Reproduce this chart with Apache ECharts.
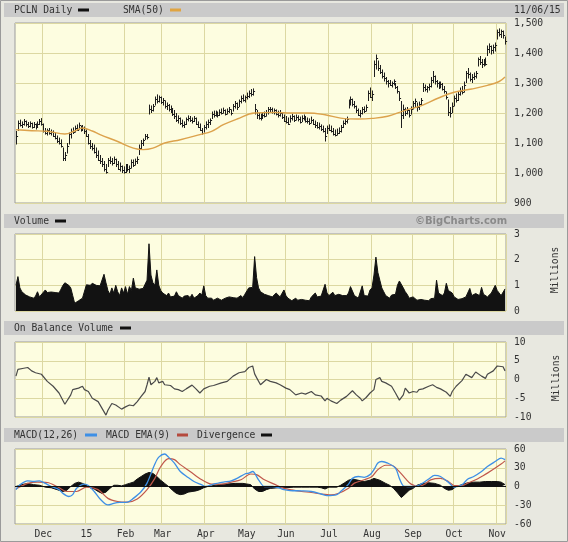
<!DOCTYPE html>
<html><head><meta charset="utf-8">
<script src="https://cdn.jsdelivr.net/npm/echarts@6/dist/echarts.min.js"></script>
<style>html,body{margin:0;padding:0;background:#e8e8e0}#c{width:568px;height:542px}</style>
</head><body><div id="c"></div>
<script>
// ---- calendar (trading days) ----
const startDate = '2014-11-10', endDate = '2015-11-06';
const holidays = ['2014-11-27','2014-12-25','2015-01-01','2015-01-19','2015-02-16','2015-04-03','2015-05-25','2015-07-03','2015-09-07'];
const monthNames = ['15','Feb','Mar','Apr','May','Jun','Jul','Aug','Sep','Oct','Nov','Dec'];

// ---- price (daily) ----
const high = [1140,1175,1178,1172,1180,1175,1170,1172,1168,1170,1165,1172,1180,1183,
1165,1150,1148,1150,1145,1142,1135,1125,1118,1112,
1085,1070,1100,1135,1148,1152,1158,1162,1168,1158,1160,1155,
1145,1130,1110,1100,1095,1085,1075,1060,1050,1040,1030,
1050,1055,1050,1055,1048,1040,1035,1025,1022,1030,1030,1025,
1045,1045,1048,1055,1095,1110,1115,1130,1130,
1228,1225,1230,1255,1262,1258,1255,
1250,1242,1235,1230,1225,1215,1210,1200,1192,1185,1178,1172,
1185,1192,1190,1185,1190,1185,1172,1165,1150,1160,
1172,1178,1182,1205,1208,1208,1205,1212,1215,1218,1212,1215,1220,1212,
1230,1240,1235,1245,1258,1262,1258,1268,1275,1280,1282,
1230,1210,1200,1198,1202,1205,1210,1220,1220,1218,1215,1212,1208,1210,1202,1195,
1190,1185,1192,1198,1192,1195,1192,1188,1192,1195,1190,1185,1182,1188,1180,1175,1170,1168,1162,1158,
1150,1158,1162,1158,1150,1145,1148,1152,1160,1175,1182,1188,
1245,1255,1248,1240,1225,1215,1210,1220,1222,1228,1275,1285,1275,
1375,1395,1375,1360,1345,1335,1320,1310,1310,1305,1312,1300,1290,1272,
1240,1228,1218,1220,1210,1222,1240,1248,1235,1238,1250,
1300,1295,1290,1298,1320,1340,1325,1310,1305,1305,1300,1290,1272,
1245,1220,1235,1258,1265,1270,1285,1290,1305,1340,1350,1335,1330,1335,1340,
1385,1390,1380,1380,1385,1425,1432,1425,1428,1435,1478,1482,1478,1475,1455];
const low = [1095,1140,1155,1150,1158,1155,1150,1152,1148,1150,1145,1150,1160,1158,
1135,1128,1125,1128,1125,1120,1112,1100,1095,1085,
1040,1040,1065,1095,1115,1130,1135,1140,1145,1138,1140,1130,
1120,1095,1080,1075,1065,1050,1040,1030,1020,1005,998,
1020,1030,1025,1030,1020,1010,1005,1000,998,1000,1005,1000,
1015,1020,1025,1030,1060,1080,1090,1110,1112,
1195,1200,1205,1225,1232,1235,1230,
1225,1215,1210,1205,1200,1190,1180,1170,1165,1160,1152,1150,
1160,1172,1170,1165,1170,1160,1150,1140,1128,1135,
1145,1150,1160,1180,1185,1188,1185,1190,1195,1198,1192,1195,1200,1192,
1205,1215,1210,1220,1232,1238,1235,1245,1250,1255,1258,
1195,1180,1178,1175,1180,1185,1188,1195,1200,1198,1195,1192,1185,1188,1180,1170,
1165,1160,1168,1175,1170,1175,1172,1165,1170,1175,1168,1165,1160,1165,1160,1150,1148,1145,1140,1135,
1105,1130,1140,1135,1125,1122,1125,1130,1135,1150,1160,1165,
1215,1225,1222,1215,1200,1190,1185,1195,1200,1205,1240,1250,1240,
1320,1345,1340,1330,1315,1305,1295,1285,1290,1285,1292,1280,1265,1240,
1150,1180,1190,1195,1185,1195,1212,1218,1205,1210,1225,
1270,1272,1268,1275,1285,1300,1295,1285,1280,1282,1275,1265,1245,
1190,1185,1200,1222,1235,1240,1258,1262,1268,1300,1315,1305,1300,1310,1315,
1355,1360,1350,1355,1358,1390,1400,1395,1398,1405,1445,1455,1450,1448,1428];
const close = [1125,1168,1160,1165,1172,1162,1158,1168,1155,1162,1152,1165,1175,1165,
1140,1135,1142,1132,1138,1125,1118,1108,1100,1090,
1050,1060,1090,1130,1140,1138,1150,1145,1160,1148,1150,1140,
1125,1100,1090,1085,1070,1060,1045,1040,1030,1015,1005,
1045,1040,1032,1048,1030,1015,1025,1010,1005,1020,1012,1018,
1038,1028,1040,1048,1085,1100,1110,1125,1120,
1215,1210,1225,1248,1240,1252,1238,
1245,1222,1228,1212,1218,1198,1190,1178,1185,1168,1160,1165,
1180,1185,1178,1172,1182,1165,1155,1145,1135,1155,
1165,1170,1178,1198,1195,1202,1192,1205,1200,1210,1198,1208,1212,1200,
1225,1232,1220,1240,1250,1245,1255,1258,1268,1262,1275,
1215,1192,1185,1190,1195,1190,1205,1212,1215,1205,1210,1198,1195,1200,1188,1175,
1170,1165,1185,1190,1178,1188,1180,1170,1185,1180,1175,1172,1168,1178,1165,1160,1152,1158,1148,1140,
1125,1150,1145,1140,1130,1128,1135,1140,1155,1168,1172,1180,
1238,1248,1230,1222,1210,1195,1200,1212,1208,1220,1268,1255,1262,
1365,1385,1350,1338,1325,1318,1305,1300,1295,1300,1305,1285,1275,1250,
1195,1215,1200,1210,1195,1215,1232,1240,1220,1230,1242,
1285,1280,1285,1290,1310,1325,1305,1300,1290,1298,1280,1272,1255,
1205,1200,1225,1250,1245,1262,1275,1270,1295,1335,1330,1315,1320,1325,1335,
1380,1370,1362,1372,1365,1415,1425,1410,1420,1428,1470,1465,1472,1460,1440];

// SMA(50) read at points [dayIndex, value]
const sma50 = [[0,1144],[8,1141],[16,1139],[25,1130],[30,1140],[34,1150],[39,1140],[43,1128],[52,1105],[60,1083],[65,1078],[70,1083],[76,1100],[84,1111],[94,1128],[100,1139],[106,1161],[113,1180],[122,1200],[132,1202],[141,1200],[149,1200],[158,1194],[166,1183],[175,1180],[182,1182],[190,1189],[199,1209],[207,1224],[216,1250],[224,1269],[233,1280],[241,1292],[247,1305],[250,1320]];

// ---- volume (millions, daily) ----
const volume = [1.0,1.34,0.9,0.75,0.7,0.62,0.58,0.55,0.6,0.5,0.58,0.75,0.55,0.62,
0.73,0.82,0.72,0.7,0.74,0.68,0.72,0.75,0.7,
0.85,1.0,1.1,1.17,1.0,
0.9,0.6,0.3,0.35,0.4,0.45,0.5,0.48,
1.02,1.05,1.0,1.08,1.04,1.0,1.05,0.98,1.0,
1.43,1.1,
0.8,0.65,0.9,0.7,1.0,0.75,0.6,0.9,
0.7,0.95,0.65,0.95,0.8,1.28,
0.9,0.95,0.85,0.9,0.88,0.95,
1.2,2.62,1.4,1.1,1.0,1.6,1.0,0.8,
0.7,0.65,0.6,0.7,0.55,0.62,0.58,0.75,0.6,0.55,0.5,0.58,
0.55,0.6,0.52,0.65,0.5,0.55,0.6,0.7,0.62,0.98,0.6,0.5,0.45,0.5,
0.42,0.45,0.5,0.45,0.42,0.48,0.5,0.45,0.55,0.48,0.52,0.45,0.5,0.55,0.6,0.52,0.65,0.7,
0.9,0.95,0.92,2.12,1.3,0.9,
0.75,0.7,0.65,0.72,0.6,0.65,0.55,0.62,0.7,0.65,0.55,0.6,0.82,0.6,0.5,0.45,
0.4,0.45,0.5,0.42,0.38,0.45,0.5,0.42,0.48,0.4,0.55,0.5,0.7,0.55,
0.6,0.58,0.65,1.04,0.7,
0.6,0.55,0.73,0.6,0.55,0.65,0.7,0.6,0.55,0.6,0.7,
0.95,0.9,0.6,0.55,0.5,0.55,
0.98,0.6,0.55,0.58,0.82,0.9,
1.4,2.1,1.5,1.2,0.9,0.75,
0.6,0.55,0.5,0.62,0.55,0.65,
1.0,1.17,1.1,0.9,0.75,0.65,
0.5,0.45,0.55,0.5,0.42,0.48,0.45,0.5,0.42,0.45,0.4,0.48,0.45,0.5,
1.2,0.7,0.65,0.6,0.7,1.08,0.8,0.85,0.7,0.55,
0.5,0.45,0.52,0.48,0.5,0.55,0.5,
0.88,0.6,0.55,0.68,0.7,0.6,0.92,0.65,0.6,0.55,0.6,0.7,0.75,1.0,0.8,0.7,0.6,0.55,0.86];

// ---- on balance volume (millions) [dayIndex, value] ----
const obv = [[0,0.9],[1,2.7],[4,3.0],[5,2.5],[6,3.2],[8,2.3],[10,1.8],[11,2.1],[13,1.4],[14,0.9],[16,-0.5],[17,-0.9],[19,-1.8],[22,-3.6],[25,-6.6],[28,-4.1],[29,-2.7],[32,-2.3],[34,-1.8],[35,-2.7],[37,-3.2],[39,-5.0],[40,-4.5],[42,-5.9],[44,-7.7],[46,-9.5],[47,-8.2],[49,-6.4],[51,-6.8],[52,-7.3],[54,-7.9],[56,-7.3],[58,-6.8],[59,-6.4],[60,-7.0],[62,-5.9],[64,-4.5],[66,-3.2],[67,-1.4],[68,0.6],[69,-1.4],[71,-0.5],[72,0.5],[73,-0.9],[75,-0.5],[76,-1.4],[79,-1.6],[81,-2.5],[83,-2.7],[85,-3.2],[87,-2.5],[90,-1.5],[92,-2.5],[94,-3.6],[96,-2.5],[99,-1.8],[101,-1.6],[105,-0.9],[108,-0.5],[111,0.9],[114,1.8],[117,2.1],[119,3.2],[120,2.7],[121,3.6],[122,1.5],[123,0.5],[125,-1.4],[128,0],[130,-0.5],[133,-0.9],[135,-1.4],[138,-2.3],[140,-2.7],[143,-4.1],[146,-3.6],[148,-3.9],[151,-3.2],[153,-4.1],[156,-4.4],[158,-5.7],[159,-5.0],[161,-5.7],[164,-6.4],[166,-5.5],[169,-4.5],[170,-4.5],[172,-3.0],[174,-4.1],[176,-5.0],[177,-5.7],[179,-4.8],[181,-3.6],[183,-2.7],[184,0],[186,0.5],[187,-0.5],[189,-0.9],[192,-1.8],[194,-3.6],[196,-5.5],[198,-4.1],[199,-2.3],[201,-3.6],[203,-3.2],[205,-3.4],[206,-2.7],[208,-2.5],[211,-1.8],[213,-1.4],[215,-2.1],[217,-2.5],[220,-3.4],[222,-4.5],[223,-3.2],[225,-1.8],[228,-0.3],[230,1.4],[233,0.5],[235,2.0],[238,0.9],[240,0.3],[241,1.4],[244,2.3],[246,3.6],[247,3.9],[249,3.4],[250,2.3]];

// ---- MACD [dayIndex, value] ----
const macd = [[0,-5],[2,2.7],[6,9],[9,8],[12,9],[15,5],[18,0],[22,-5],[24,-11],[27,-16],[29,-13],[31,-2.7],[35,3.8],[37,1.6],[40,-8],[43,-20],[47,-29.5],[50,-27],[53,-25.5],[57,-25],[60,-19],[64,-8],[67,5.4],[71,36],[73,47],[76,52],[78,47],[81,37.5],[84,24],[88,14.5],[91,8],[95,2.7],[97,0],[101,3.8],[106,7],[110,9],[113,13],[117,20],[119,21.4],[121,24],[124,10.7],[127,0],[131,0],[134,-1.6],[137,-5],[140,-6.5],[146,-7],[151,-8],[156,-12],[159,-14.5],[164,-13],[166,-8],[170,3.8],[172,13],[175,16],[178,14.5],[181,19],[183,27],[185,37.5],[187,40],[190,37.5],[194,29.5],[196,13],[198,1],[200,0],[204,0],[207,3.8],[211,12],[214,17.7],[217,16],[221,7],[224,-1],[228,2.7],[231,12],[234,16],[238,24],[241,32],[245,40],[248,45.5],[250,43]];
const macdEma = [[0,-3.8],[6,5],[11,7],[16,6.4],[21,0],[26,-8],[31,-8],[36,-1],[42,-5],[47,-19],[52,-24],[57,-25],[62,-20],[67,-5],[71,13],[74,32],[78,44.5],[81,43],[84,35],[89,24],[95,10.7],[100,3.8],[105,3.8],[110,7],[115,10.7],[120,20],[123,19],[127,10.7],[132,3.8],[137,-3],[141,-5.5],[146,-8],[151,-9.6],[156,-12],[161,-13.4],[165,-10.7],[170,-2.7],[173,5.4],[178,10.7],[182,16],[185,27],[189,34],[192,34],[195,27],[199,13],[202,3.8],[206,0],[209,3.8],[212,10.7],[217,13],[221,8],[224,1.6],[228,1.6],[231,5.4],[235,10.7],[238,16],[241,21.4],[245,29.5],[248,36],[250,41]];
const divergence = [[0,0],[3,3],[6,5],[9,3],[12,2],[15,-1],[18,-2],[21,-5],[24,-8],[26,-6],[28,0],[30,5],[32,7],[34,5],[36,2],[38,-2],[40,-4],[42,-8],[44,-11],[46,-9],[48,-3],[50,2],[52,2],[54,1],[56,3],[58,5],[60,7],[62,12],[64,16],[66,20],[68,22.5],[70,21],[72,16],[74,10],[76,5],[78,0],[80,-6],[82,-11],[84,-13],[86,-12],[88,-9],[90,-8],[92,-7],[94,-5],[96,-2],[98,0],[100,1],[104,3],[108,4],[112,5],[116,5],[118,4],[120,3],[122,-4],[124,-8],[126,-8],[128,-5],[130,-3],[134,-2],[138,-2],[142,-1],[146,-1],[150,-1],[154,-1],[156,-2],[158,-4],[160,-1],[164,-1],[166,2],[168,6],[170,10],[172,12],[175,10],[178,8],[181,10],[183,13],[186,10],[189,5],[191,2],[193,-3],[195,-10],[197,-17.7],[199,-12],[201,-6],[203,-3],[205,2],[208,5],[211,6],[214,5],[217,2],[219,-3],[221,-6],[223,-5],[225,0],[227,2],[229,4],[231,6],[234,7],[237,7],[240,8],[243,8],[246,8],[248,7],[250,3]];

// ---- build trading-day categories ----
const hol = new Set(holidays);
const dates = [];
for (let d = new Date(startDate + 'T00:00:00Z'); d <= new Date(endDate + 'T00:00:00Z'); d.setUTCDate(d.getUTCDate() + 1)) {
  const wd = d.getUTCDay();
  const s = d.toISOString().slice(0, 10);
  if (wd !== 0 && wd !== 6 && !hol.has(s)) dates.push(s);
}
const isMonthStart = (i) => i > 0 && dates[i].slice(5, 7) !== dates[i - 1].slice(5, 7);
const monthLabel = (s) => monthNames[parseInt(s.slice(5, 7), 10) - 1];

const ohlc = dates.map((d, i) => [i, low[i], high[i], close[i]]);

const FONT = '"DejaVu Sans Mono", monospace';
const TXT = '#333';
const GRIDC = '#dcd8a2';
const L = 15, R = 62;
const grids = [
  { top: 23, height: 180 },
  { top: 234, height: 77 },
  { top: 342, height: 75 },
  { top: 449, height: 75 }
].map(g => Object.assign({ left: L, right: R, show: true, backgroundColor: '#fdfde0', borderColor: '#9c9c9c', borderWidth: 1 }, g));

const xAxes = grids.map((g, k) => ({
  type: 'category', gridIndex: k, data: dates, boundaryGap: true,
  axisLine: { show: false }, axisTick: { show: false },
  axisLabel: {
    show: k === 3, interval: (i) => isMonthStart(i), formatter: (v) => monthLabel(v),
    color: TXT, fontFamily: FONT, fontSize: 9.7, margin: 5
  },
  splitLine: { show: true, interval: (i) => isMonthStart(i), lineStyle: { color: GRIDC, width: 1 } }
}));

const yBase = (k, min, max, interval, fmt) => ({
  type: 'value', gridIndex: k, position: 'right', min, max, interval,
  axisLine: { show: false }, axisTick: { show: false },
  axisLabel: { color: TXT, fontFamily: FONT, fontSize: 9.7, margin: 8, formatter: fmt },
  splitLine: { show: true, lineStyle: { color: GRIDC, width: 1 } }
});
const comma = (v) => v.toLocaleString('en-US');
const yAxes = [
  yBase(0, 900, 1500, 100, comma),
  yBase(1, 0, 3, 1, (v) => String(v)),
  yBase(2, -10, 10, 5, (v) => String(v)),
  yBase(3, -60, 60, 30, (v) => String(v))
];

function header(y, items) {
  const els = [{ type: 'rect', shape: { x: 4, y: y, width: 560, height: 14 }, style: { fill: '#cacaca' }, silent: true }];
  items.forEach(it => {
    if (it.text !== undefined) {
      els.push({ type: 'text', x: it.x, y: y + 7, style: { text: it.text, fill: it.color || TXT, font: it.font || ('9.7px ' + FONT), textVerticalAlign: 'middle' } });
    } else {
      els.push({ type: 'rect', shape: { x: it.x, y: y + 5.5, width: it.w, height: 3 }, style: { fill: it.fill } });
    }
  });
  return els;
}

const graphics = [].concat(
  [{ type: 'rect', shape: { x: 0.5, y: 0.5, width: 567, height: 541 }, style: { fill: 'none', stroke: '#9a9a9a', lineWidth: 1 }, z: 100 }],
  header(3, [{ x: 14, text: 'PCLN Daily' }, { x: 78, w: 11, fill: '#111' }, { x: 123, text: 'SMA(50)' }, { x: 170, w: 11, fill: '#e0a440' }, { x: 514, text: '11/06/15' }]),
  header(214, [{ x: 14, text: 'Volume' }, { x: 55, w: 11, fill: '#111' }, { x: 415, text: '©BigCharts.com', color: '#8a8a8a', font: 'bold 10px "DejaVu Sans", sans-serif' }]),
  header(321, [{ x: 14, text: 'On Balance Volume' }, { x: 120, w: 11, fill: '#111' }]),
  header(428, [{ x: 14, text: 'MACD(12,26)' }, { x: 85, w: 12, fill: '#3d8fe6' }, { x: 106, text: 'MACD EMA(9)' }, { x: 177, w: 11, fill: '#b5493d' }, { x: 197, text: 'Divergence' }, { x: 261, w: 11, fill: '#111' }]),
  [{ type: 'text', x: 555, y: 270, rotation: Math.PI / 2, style: { text: 'Millions', fill: TXT, font: '9.7px ' + FONT, textAlign: 'center', textVerticalAlign: 'middle' } },
   { type: 'text', x: 556, y: 378, rotation: Math.PI / 2, style: { text: 'Millions', fill: TXT, font: '9.7px ' + FONT, textAlign: 'center', textVerticalAlign: 'middle' } }]
);

const option = {
  animation: false,
  backgroundColor: '#e8e8e0',
  grid: grids,
  xAxis: xAxes,
  yAxis: yAxes,
  graphic: graphics,
  series: [
    {
      type: 'custom', xAxisIndex: 0, yAxisIndex: 0, data: ohlc, encode: { x: 0, y: [1, 2, 3] }, z: 3,
      renderItem: (params, api) => {
        const lo = api.coord([api.value(0), api.value(1)]);
        const hi = api.coord([api.value(0), api.value(2)]);
        const cl = api.coord([api.value(0), api.value(3)]);
        const x = Math.round(lo[0]) + 0.5;
        const yc = Math.round(cl[1]) + 0.5;
        return { type: 'group', children: [
          { type: 'line', shape: { x1: x, y1: lo[1], x2: x, y2: hi[1] }, style: { stroke: '#1e1e1e', lineWidth: 1 } },
          { type: 'line', shape: { x1: x, y1: yc, x2: x + 1.6, y2: yc }, style: { stroke: '#1e1e1e', lineWidth: 1 } }
        ] };
      }
    },
    { type: 'line', xAxisIndex: 0, yAxisIndex: 0, data: sma50, smooth: 0.4, symbol: 'none', z: 4, lineStyle: { color: '#dca24c', width: 1.4 } },
    { type: 'line', xAxisIndex: 1, yAxisIndex: 1, data: volume, symbol: 'none', lineStyle: { color: '#121212', width: 1 }, areaStyle: { color: '#121212', opacity: 1 } },
    { type: 'line', xAxisIndex: 2, yAxisIndex: 2, data: obv, symbol: 'none', lineStyle: { color: '#4a4a4a', width: 1.2 } },
    { type: 'line', xAxisIndex: 3, yAxisIndex: 3, data: divergence, symbol: 'none', lineStyle: { color: '#111', width: 1 }, areaStyle: { color: '#111', opacity: 1, origin: 0 },
      markLine: { silent: true, symbol: 'none', label: { show: false }, lineStyle: { color: '#111', width: 1.2, type: 'solid' }, data: [{ yAxis: 0 }] } },
    { type: 'line', xAxisIndex: 3, yAxisIndex: 3, data: macdEma, smooth: 0.3, symbol: 'none', lineStyle: { color: '#c0584c', width: 1.2 } },
    { type: 'line', xAxisIndex: 3, yAxisIndex: 3, data: macd, smooth: 0.3, symbol: 'none', lineStyle: { color: '#3d8fe6', width: 1.3 } }
  ]
};
const chart = echarts.init(document.getElementById('c'), null, { renderer: 'canvas' });
chart.setOption(option);
</script>
</body></html>
